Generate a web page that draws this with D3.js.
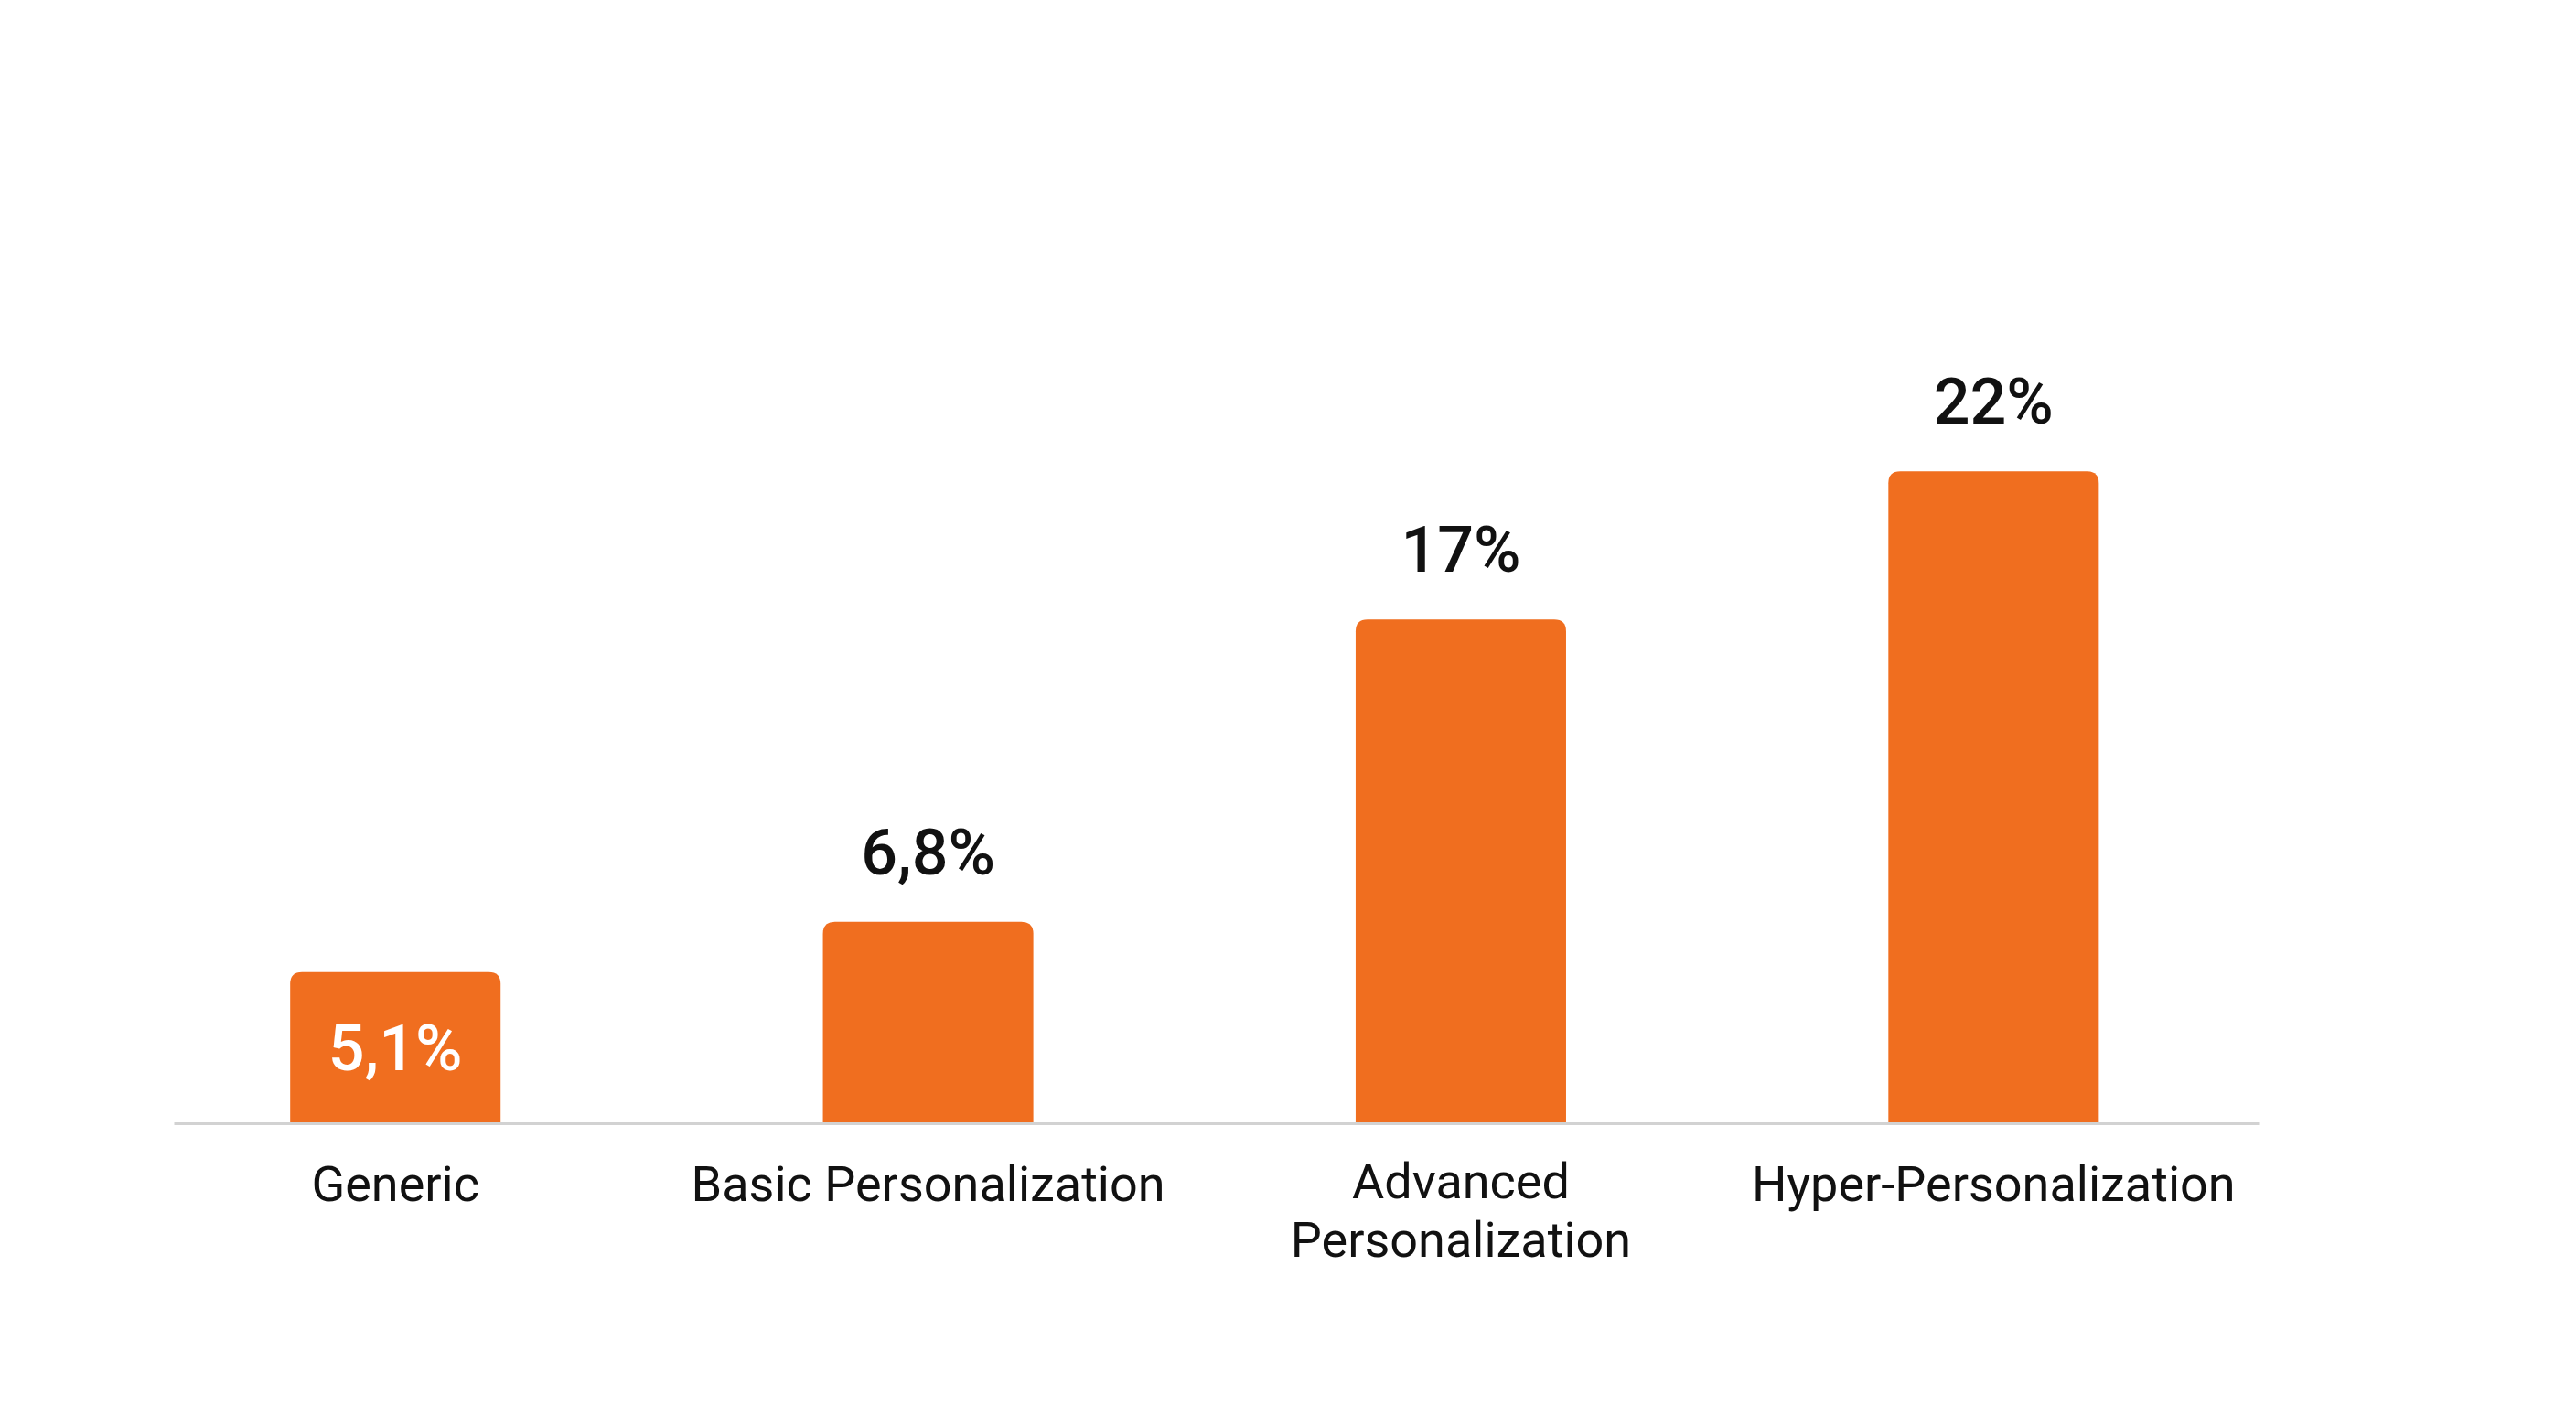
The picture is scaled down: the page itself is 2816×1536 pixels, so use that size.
<!DOCTYPE html>
<html lang="en">
  <head>
    <meta charset="utf-8">
    <title>Personalization lift</title>
    <script src="https://cdn.jsdelivr.net/npm/d3@7"></script>
    <style>
      body { margin: 0; background: #fff; }
      svg { display: block; }
    </style>
  </head>
  <body>
    <script>
      // Data
      var categories = ["Generic", "Basic Personalization", "Advanced\nPersonalization", "Hyper-Personalization"];
      var values = [5.1, 6.8, 17, 22];
      var valueLabels = ["5,1%", "6,8%", "17%", "22%"];

      var w = 2816;
      var h = 1536;
      var baseY = 1228;

      var svg = d3.select("body")
        .append("svg")
        .attr("width", w)
        .attr("height", h);

      // x: band scale, outer space is a bit bigger on the right
      var xScale = d3.scaleBand()
        .domain(categories)
        .range([190, 2470])
        .paddingInner(0.605)
        .paddingOuter(0.26)
        .align(0.42);

      var yScale = d3.scaleLinear()
        .domain([0, 25])
        .range([baseY, 418]);

      var bw = xScale.bandwidth();
      var r = 13;

      // bar with rounded top corners only
      function barPath(d, i) {
        var x0 = xScale(categories[i]);
        var x1 = x0 + bw;
        var y0 = yScale(d);
        var y1 = yScale(0);
        return "M" + x0 + "," + y1 +
          "V" + (y0 + r) +
          "Q" + x0 + "," + y0 + " " + (x0 + r) + "," + y0 +
          "H" + (x1 - r) +
          "Q" + x1 + "," + y0 + " " + x1 + "," + (y0 + r) +
          "V" + y1 + "Z";
      }

      svg.selectAll("path.bar")
        .data(values)
        .enter()
        .append("path")
        .attr("class", "bar")
        .attr("d", barPath)
        .attr("fill", "#F06E1F");

      // Axis with category labels
      var xAxis = d3.axisBottom(xScale)
        .tickSize(0)
        .tickSizeOuter(0);

      var gx = svg.append("g")
        .attr("transform", "translate(0," + baseY + ")")
        .call(xAxis);

      gx.select(".domain")
        .attr("stroke", "#d2d2d2")
        .attr("stroke-width", 3);

      gx.selectAll(".tick text")
        .attr("font-family", "Roboto, sans-serif")
        .attr("font-size", "54px")
        .attr("fill", "#111")
        .attr("y", 85)
        .attr("dy", null)
        .each(function(d) {
          var t = d3.select(this);
          var lines = d.split("\n");
          t.text(null);
          lines.forEach(function(line, k) {
            t.append("tspan")
              .attr("x", 0)
              .attr("dy", k === 0 ? (lines.length > 1 ? -3 : 0) : 64)
              .text(line);
          });
        });

      // Value labels: the smallest bar carries its label inside
      var minVal = d3.min(values);

      svg.selectAll("text.value")
        .data(values)
        .enter()
        .append("text")
        .attr("class", "value")
        .attr("text-anchor", "middle")
        .attr("font-family", "Roboto, sans-serif")
        .attr("font-weight", 500)
        .attr("font-size", "70px")
        .attr("x", function(d, i) {
          return xScale(categories[i]) + bw / 2;
        })
        .attr("y", function(d) {
          if (d === minVal) {
            return (yScale(d) + yScale(0)) / 2 + 25;
          }
          return yScale(d) - 52;
        })
        .attr("fill", function(d) {
          return d === minVal ? "#fff" : "#111";
        })
        .text(function(d, i) {
          return valueLabels[i];
        });
    </script>
  </body>
</html>
